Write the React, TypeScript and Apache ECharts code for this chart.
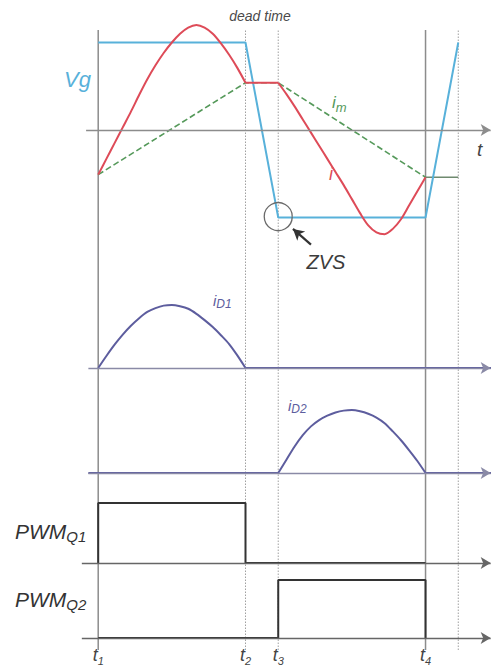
import React, { useEffect, useRef } from "react";
import * as echarts from "echarts";

// Time axis: t1 = 0 ... t4 = 10 (arbitrary units), dead time t2..t3
const tTicks = [0, 4.5, 5.5, 10];
const tTickNames = ["1", "2", "3", "4"];
const solidMarks = [0, 10];
const dottedMarks = [4.5, 5.5, 11];

// Half-bridge voltage Vg (normalised to ±1)
const vgWave = [
  [0, 1],
  [4.5, 1],
  [5.5, -1],
  [10, -1],
  [11, 1],
];

// Resonant tank current i
const iRise = [
  [0, -0.51],
  [0.25, -0.33],
  [0.5, -0.15],
  [0.75, 0.03],
  [1.0, 0.21],
  [1.25, 0.4],
  [1.5, 0.58],
  [1.75, 0.74],
  [2.0, 0.88],
  [2.25, 1.0],
  [2.5, 1.1],
  [2.75, 1.17],
  [3.0, 1.2],
  [3.25, 1.17],
  [3.5, 1.1],
  [3.75, 0.99],
  [4.0, 0.86],
  [4.25, 0.71],
  [4.5, 0.54],
];
const iDead = [
  [4.5, 0.54],
  [5.5, 0.54],
];
const iFall = [
  [5.5, 0.54],
  [5.75, 0.41],
  [6.0, 0.27],
  [6.25, 0.12],
  [6.5, -0.03],
  [6.75, -0.18],
  [7.0, -0.33],
  [7.25, -0.48],
  [7.5, -0.63],
  [7.75, -0.79],
  [8.0, -0.95],
  [8.25, -1.09],
  [8.5, -1.17],
  [8.75, -1.19],
  [9.0, -1.13],
  [9.25, -1.02],
  [9.5, -0.86],
  [9.75, -0.7],
  [10, -0.54],
];

// Magnetising current im
const imRamp = [
  [0, -0.51],
  [4.5, 0.54],
  [5.5, 0.54],
  [10, -0.54],
];
const imHold = [
  [10, -0.54],
  [11, -0.54],
];

// Secondary diode currents
const iD1 = [
  [0, 0],
  [0.25, 0.19],
  [0.5, 0.37],
  [0.75, 0.53],
  [1.0, 0.67],
  [1.25, 0.79],
  [1.5, 0.89],
  [1.75, 0.95],
  [2.0, 0.99],
  [2.25, 1.0],
  [2.5, 0.98],
  [2.75, 0.94],
  [3.0, 0.86],
  [3.25, 0.76],
  [3.5, 0.65],
  [3.75, 0.52],
  [4.0, 0.38],
  [4.25, 0.2],
  [4.5, 0],
];
const iD1Off = [
  [4.5, 0],
  [12, 0],
];
const iD2 = [
  [5.5, 0],
  [5.75, 0.21],
  [6.0, 0.42],
  [6.25, 0.6],
  [6.5, 0.74],
  [6.75, 0.84],
  [7.0, 0.91],
  [7.25, 0.96],
  [7.5, 0.99],
  [7.75, 1.0],
  [8.0, 0.98],
  [8.25, 0.94],
  [8.5, 0.88],
  [8.75, 0.79],
  [9.0, 0.66],
  [9.25, 0.52],
  [9.5, 0.36],
  [9.75, 0.19],
  [10, 0],
];
const iD2Off = [
  [-0.3, 0],
  [5.5, 0],
];
const iD2Off2 = [
  [10, 0],
  [12, 0],
];

// Gate signals
const pwmQ1 = [
  [0, 0],
  [0, 1],
  [4.5, 1],
  [4.5, 0],
  [10, 0],
];
const pwmQ2 = [
  [0, 0],
  [5.5, 0],
  [5.5, 1],
  [10, 1],
  [10, 0],
];

const FONT = "'Liberation Sans', Arial, Helvetica, sans-serif";
const BLUE = "#58b1da";
const RED = "#de4b58";
const GREEN = "#55995a";
const PURPLE = "#5d5d9e";
const GRAY = "#8c8c8c";
const DARK = "#333333";

const X_MIN = -3;
const X_MAX = 12;
const SMOOTH = 0.3;

// zero line of a panel, ending in an arrow head at the right edge
const baseLine = (from: number, color: string, width = 1.4) => ({
  silent: true,
  symbol: ["none", "arrow"],
  symbolSize: [9, 10],
  label: { show: false },
  emphasis: { disabled: true },
  lineStyle: { color, width, type: "solid" },
  data: [[{ coord: [from, 0] }, { coord: [11.99, 0] }]],
});

const lineSeries = (
  data: number[][],
  idx: number,
  color: string,
  width: number,
  extra: Record<string, unknown> = {}
) => ({
  type: "line",
  xAxisIndex: idx,
  yAxisIndex: idx,
  data,
  showSymbol: false,
  symbol: "none",
  silent: true,
  clip: false,
  lineStyle: { color, width },
  ...extra,
});

const App: React.FC = () => {
  const ref = useRef<HTMLDivElement>(null);

  useEffect(() => {
    if (!ref.current) return;
    const chart = echarts.init(ref.current, undefined, { renderer: "svg" });

    // frame (vertical guides), top panel, iD1, iD2, PWM Q1, PWM Q2
    const grids = [
      { top: 30, height: 620 },
      { top: 7.5, height: 245 },
      { top: 305, height: 63 },
      { top: 410, height: 63 },
      { top: 503, height: 60 },
      { top: 580, height: 58 },
    ];
    const yRanges = [
      [0, 1],
      [-1.4, 1.4],
      [0, 1],
      [0, 1],
      [0, 1],
      [0, 1],
    ];

    const xAxes = grids.map((_, i) => {
      const last = i === grids.length - 1;
      return {
        type: "value",
        gridIndex: i,
        min: X_MIN,
        max: X_MAX,
        show: last,
        axisLine: { show: false },
        axisTick: { show: false },
        splitLine: { show: false },
        axisLabel: last
          ? {
              show: true,
              customValues: tTicks,
              margin: 8,
              formatter: (v: number) => {
                const k = tTicks.indexOf(v);
                return k >= 0 ? `{t|t}{s|${tTickNames[k]}}` : "";
              },
              rich: {
                t: { fontFamily: FONT, fontStyle: "italic", fontSize: 18, color: "#444" },
                s: {
                  fontFamily: FONT,
                  fontStyle: "italic",
                  fontSize: 11,
                  color: "#444",
                  verticalAlign: "bottom",
                  padding: [0, 0, -2, 0],
                },
              },
            }
          : { show: false },
      };
    });
    const yAxes = grids.map((_, i) => ({
      type: "value",
      gridIndex: i,
      min: yRanges[i][0],
      max: yRanges[i][1],
      show: false,
    }));

    const series: any[] = [];

    // vertical time guides
    solidMarks.forEach((t) =>
      series.push(
        lineSeries(
          [
            [t, 0],
            [t, 1],
          ],
          0,
          GRAY,
          1.5
        )
      )
    );
    dottedMarks.forEach((t) =>
      series.push(
        lineSeries(
          [
            [t, 0],
            [t, 1],
          ],
          0,
          "#a0a0a0",
          1,
          { lineStyle: { color: "#a0a0a0", width: 1, type: [1.5, 1.5] } }
        )
      )
    );

    // top panel
    series.push(
      lineSeries(imRamp, 1, GREEN, 1.5, {
        lineStyle: { color: GREEN, width: 1.6, type: [6, 3] },
        markLine: baseLine(-0.37, GRAY),
      })
    );
    series.push(lineSeries(imHold, 1, "#6f8a6f", 1.6));
    series.push(
      lineSeries(vgWave, 1, BLUE, 2, {
        markPoint: {
          silent: true,
          symbol: "circle",
          symbolSize: 28,
          label: { show: false },
          itemStyle: { color: "rgba(0,0,0,0)", borderColor: "#6a6a6a", borderWidth: 1.3 },
          data: [{ coord: [5.5, -0.99] }],
        },
      })
    );
    series.push(lineSeries(iRise, 1, RED, 2, { smooth: SMOOTH }));
    series.push(lineSeries(iDead, 1, RED, 2));
    series.push(
      lineSeries(iFall, 1, RED, 2, {
        smooth: SMOOTH,
        markLine: {
          silent: true,
          symbol: ["none", "arrow"],
          symbolSize: [9, 11],
          label: { show: false },
          emphasis: { disabled: true },
          lineStyle: { color: DARK, width: 2.2, type: "solid" },
          data: [[{ coord: [6.5, -1.31] }, { coord: [5.95, -1.13] }]],
        },
      })
    );

    // diode currents
    series.push(
      lineSeries(iD1, 2, PURPLE, 2, { smooth: SMOOTH, markLine: baseLine(-0.3, "#8a8aa6") })
    );
    series.push(lineSeries(iD1Off, 2, PURPLE, 2));
    series.push(
      lineSeries(iD2, 3, PURPLE, 2, { smooth: SMOOTH, markLine: baseLine(-0.3, "#8a8aa6") })
    );
    series.push(lineSeries(iD2Off, 3, PURPLE, 1.8));
    series.push(lineSeries(iD2Off2, 3, PURPLE, 1.8));

    // gate signals
    series.push(lineSeries(pwmQ1, 4, DARK, 2, { markLine: baseLine(-0.5, "#666", 1.3) }));
    series.push(lineSeries(pwmQ2, 5, DARK, 2, { markLine: baseLine(-0.5, "#666", 1.3) }));

    const txt = (
      x: number,
      y: number,
      text: string,
      size: number,
      color: string,
      align = "left",
      rich?: Record<string, unknown>
    ) => ({
      type: "text",
      x,
      y,
      silent: true,
      style: {
        text,
        fill: color,
        fontFamily: FONT,
        fontStyle: "italic",
        fontSize: size,
        align,
        verticalAlign: "middle",
        rich,
      },
    });
    const sub = (main: number, small: number, color: string, drop = 3) => ({
      a: { fontFamily: FONT, fontStyle: "italic", fontSize: main, color },
      b: {
        fontFamily: FONT,
        fontStyle: "italic",
        fontSize: small,
        color,
        verticalAlign: "bottom",
        padding: [0, 0, -drop, 0],
      },
    });

    const graphic = [
      txt(64, 79, "Vg", 22, BLUE),
      txt(332, 102, "{a|i}{b|m}", 16, GREEN, "left", sub(17, 13, GREEN)),
      txt(329, 174, "i", 18, RED),
      txt(477, 149, "t", 19, "#444"),
      txt(260, 16, "dead time", 14, "#4a4a4a", "center"),
      txt(326, 262, "ZVS", 20, "#3c3c3c", "center"),
      txt(213, 300, "{a|i}{b|D1}", 15, PURPLE, "left", sub(15, 12, PURPLE, 2)),
      txt(288, 405, "{a|i}{b|D2}", 15, PURPLE, "left", sub(15, 12, PURPLE, 2)),
      txt(15, 531, "{a|PWM}{b|Q1}", 21, DARK, "left", sub(21, 15, "#3a3a3a", 2)),
      txt(15, 599, "{a|PWM}{b|Q2}", 21, DARK, "left", sub(21, 15, "#3a3a3a", 2)),
    ];

    chart.setOption({
      animation: false,
      backgroundColor: "#ffffff",
      grid: grids.map((g) => ({ left: 0, right: 0, top: g.top, height: g.height })),
      xAxis: xAxes,
      yAxis: yAxes,
      series,
      graphic,
    });

    return () => chart.dispose();
  }, []);

  return (
    <div
      ref={ref}
      style={{ position: "absolute", left: 0, top: 0, width: 491, height: 668 }}
    />
  );
};

export default App;
